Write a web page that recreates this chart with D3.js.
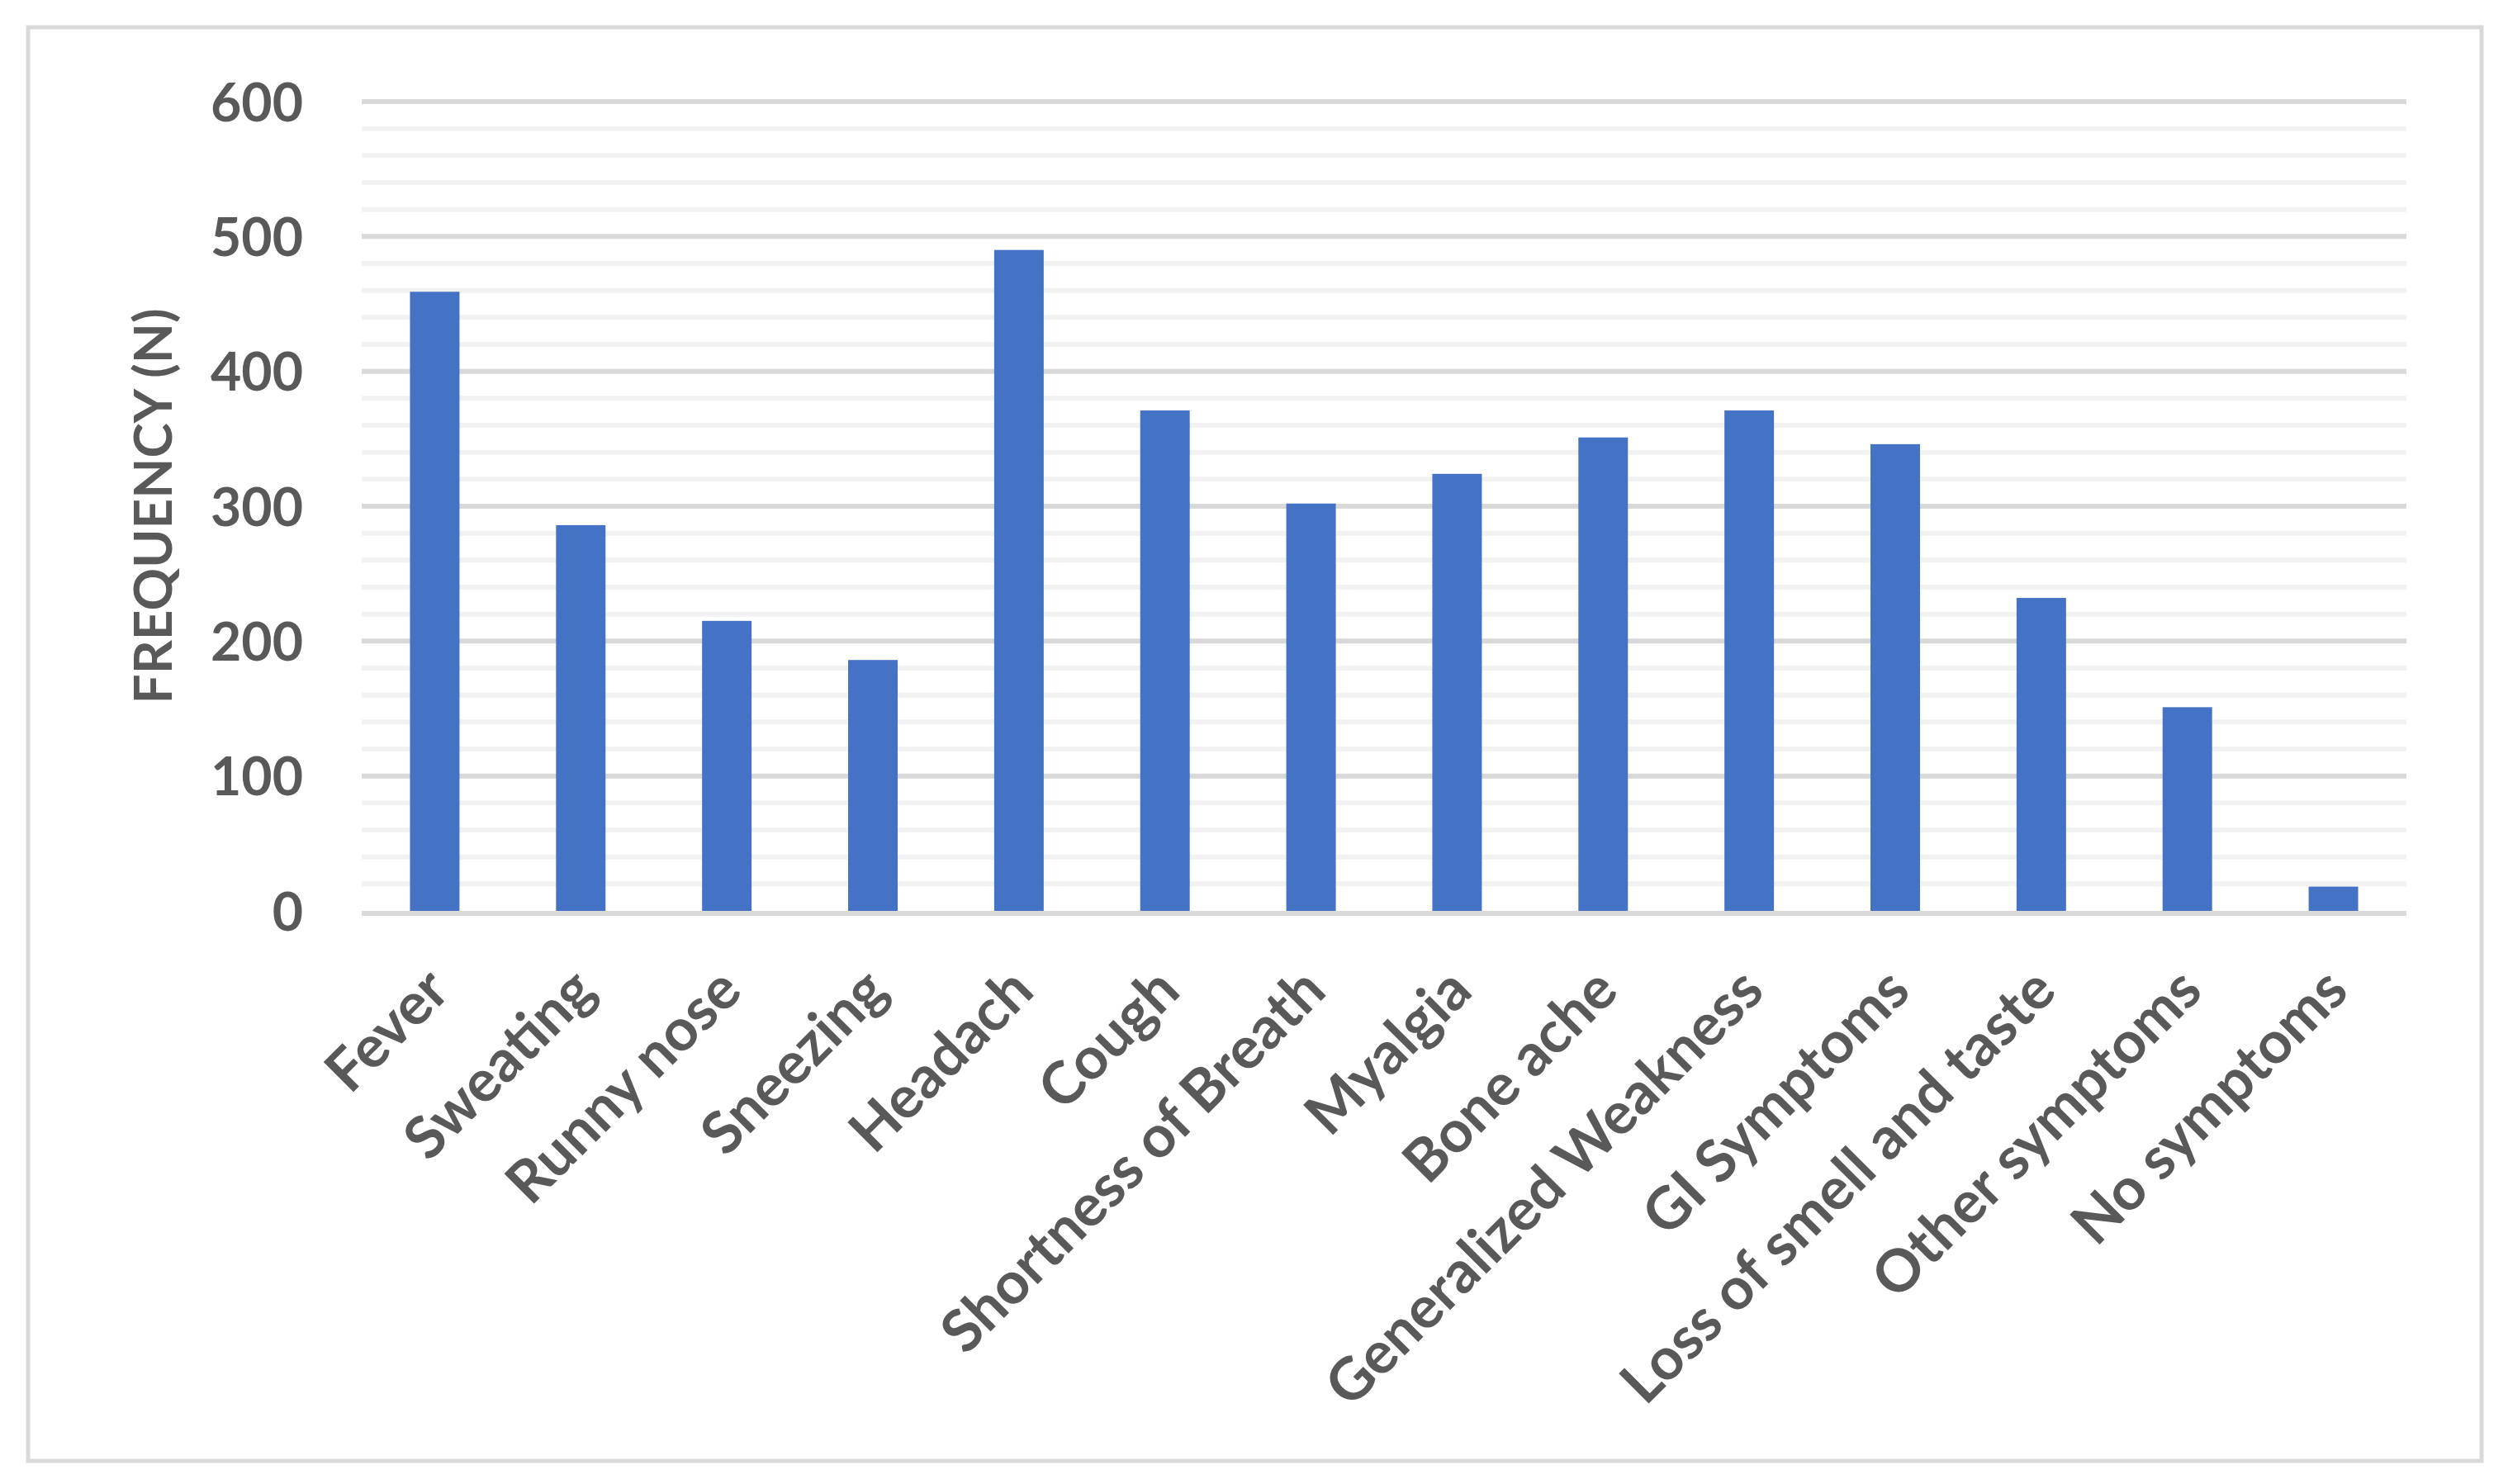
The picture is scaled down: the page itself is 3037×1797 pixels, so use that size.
<!DOCTYPE html>
<html>
<head>
<meta charset="utf-8">
<script src="https://cdn.jsdelivr.net/npm/d3@7/dist/d3.min.js"></script>
<style>
  html, body { margin: 0; padding: 0; background: #fff; }
  svg { display: block; }
</style>
</head>
<body>
<script>
const categories = ["Fever", "Sweating", "Runny nose", "Sneezing", "Headach", "Cough",
  "Shortness of Breath", "Myalgia", "Bone ache", "Generalized Weakness", "GI Symptoms",
  "Loss of smell and taste", "Other symptoms", "No symptoms"];
const values = [459, 286, 215, 186, 490, 371, 302, 324, 351, 371, 346, 232, 151, 18];
const majorTicks = [0, 100, 200, 300, 400, 500, 600];
const minorTicks = d3.range(0, 601, 20).filter(v => v % 100 !== 0);
const yTitle = "FREQUENCY (N)";

const W = 3037, H = 1797;
const FONT = "Lato, 'Open Sans', sans-serif";
const TEXT = "#595959";

const svg = d3.select("body").append("svg").attr("width", W).attr("height", H);
svg.append("rect").attr("width", W).attr("height", H).attr("fill", "#fff");

// chart border
svg.append("rect")
  .attr("x", 34).attr("y", 33).attr("width", 2971).attr("height", 1736)
  .attr("fill", "none").attr("stroke", "#d9d9d9").attr("stroke-width", 5);

const x = d3.scaleBand().domain(categories).range([438, 2914])
  .paddingInner(0.661).paddingOuter(0.3305);
const y = d3.scaleLinear().domain([0, 600]).range([1103, 123]);

// gridlines
svg.append("g").selectAll("line").data(minorTicks).join("line")
  .attr("x1", 438).attr("x2", 2914)
  .attr("y1", d => y(d)).attr("y2", d => y(d))
  .attr("stroke", "#f2f2f2").attr("stroke-width", 6);
svg.append("g").selectAll("line").data(majorTicks.filter(d => d > 0)).join("line")
  .attr("x1", 438).attr("x2", 2914)
  .attr("y1", d => y(d)).attr("y2", d => y(d))
  .attr("stroke", "#d9d9d9").attr("stroke-width", 6);

// bars
svg.append("g").selectAll("rect").data(values).join("rect")
  .attr("x", (d, i) => x(categories[i]))
  .attr("width", x.bandwidth())
  .attr("y", d => y(d))
  .attr("height", d => y(0) - y(d))
  .attr("fill", "#4472c4");

// baseline
svg.append("line").attr("x1", 438).attr("x2", 2914)
  .attr("y1", y(0) + 3).attr("y2", y(0) + 3)
  .attr("stroke", "#d9d9d9").attr("stroke-width", 6);

// font size matching
function fit(text, target) {
  const t = svg.append("text").attr("font-family", FONT).attr("font-weight", "bold")
    .attr("font-size", 100).text(text);
  const w = t.node().getComputedTextLength();
  t.remove();
  return 100 * target / w;
}
const catSize = fit("Generalized Weakness", 713);
const tickSize = fit("600", 112);

// y axis tick labels
const yAxis = d3.axisLeft(y).tickValues(majorTicks).tickSize(0).tickPadding(0);
const gy = svg.append("g").attr("transform", "translate(367,0)").call(yAxis);
gy.select(".domain").remove();
gy.selectAll("text")
  .attr("font-family", FONT).attr("font-weight", "bold")
  .attr("font-size", tickSize).attr("fill", TEXT)
  .attr("x", 0).attr("dy", "0.36em");

// x axis labels
const xAxis = d3.axisBottom(x).tickSize(0).tickPadding(0);
const gx = svg.append("g").attr("transform", `translate(0,${y(0)})`).call(xAxis);
gx.select(".domain").remove();
gx.selectAll("text")
  .attr("font-family", FONT).attr("font-weight", "bold")
  .attr("font-size", catSize).attr("fill", TEXT)
  .attr("text-anchor", "end")
  .attr("y", 0).attr("dy", 0)
  .attr("transform", "translate(21,100) rotate(-45)");

// y title
svg.append("text")
  .attr("transform", `translate(208,${(y(0) + y(600)) / 2}) rotate(-90)`)
  .attr("text-anchor", "middle")
  .attr("font-family", FONT).attr("font-weight", "bold")
  .attr("font-size", fit(yTitle, 479)).attr("fill", TEXT)
  .text(yTitle);
</script>
</body>
</html>
